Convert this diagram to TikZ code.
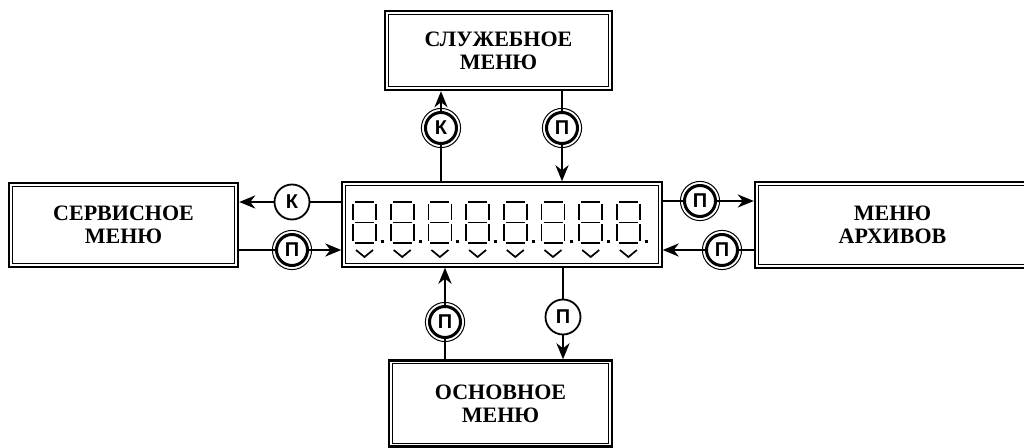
\documentclass[tikz,border=0pt]{standalone}
\usepackage{fontspec}
\setmainfont{Liberation Serif}
\newfontfamily\keyfont{Liberation Sans}
\usetikzlibrary{arrows.meta,positioning}

\tikzset{
  menubox/.style={draw, line width=1.2pt, align=center, inner sep=0pt,
                  font=\bfseries\fontsize{11}{11.5}\selectfont},
  dispbox/.style={draw, line width=0.7pt, inner sep=0pt},
  shortkey/.style={circle, draw, fill=white, line width=0.9pt, minimum size=17.5pt,
                   inner sep=0pt, font=\keyfont\bfseries\fontsize{10}{10}\selectfont},
  longkey/.style={shortkey, line width=1.5pt, minimum size=15.5pt},
  seg/.style={line width=0.8pt},
  chev/.style={line width=0.85pt}
}

\begin{document}
\begin{tikzpicture}[x=0.5pt,y=-0.5pt,>={Stealth[length=8pt,width=6.5pt,inset=2.5pt]},line width=1.2pt]
  \useasboundingbox (0,0) rectangle (1024,448);
  \clip (0,0) rectangle (1024,448);

  % menus and display
  \node[menubox, minimum width=113.5pt, minimum height=39.5pt] (slu) at (498.5,50.5) {СЛУЖЕБНОЕ\\МЕНЮ};
  \node[menubox, minimum width=114.5pt, minimum height=42pt]   (ser) at (123.5,225)  {СЕРВИСНОЕ\\МЕНЮ};
  \node[menubox, minimum width=137.5pt, minimum height=43pt]   (arh) at (892.5,225)  {МЕНЮ\\АРХИВОВ};
  \node[menubox, minimum width=111.5pt, minimum height=43pt]   (osn) at (500.5,403.5) {ОСНОВНОЕ\\МЕНЮ};
  \node[dispbox, minimum width=160pt, minimum height=42.5pt]   (disp) at (502,224.5) {};
  \foreach \b in {slu,ser,arh,osn,disp}
    \draw[line width=0.5pt] ([shift={(2.3pt,-2.3pt)}]\b.north west) rectangle ([shift={(-2.3pt,2.3pt)}]\b.south east);

  % digits
  \foreach \i in {0,...,7} {
    \begin{scope}[shift={(353+\i*37.7,0)}]
      \draw[seg] (2,202) -- (21,202) (2,222.5) -- (21,222.5) (2,243) -- (21,243)
                 (0,204) -- (0,220.5) (0,224.5) -- (0,241)
                 (23,204) -- (23,220.5) (23,224.5) -- (23,241);
      \fill (28,240.5) rectangle (31,243.5);
      \draw[chev] (3,250) -- (11.5,257) -- (20,250);
    \end{scope}
  }

  % keys
  \node[longkey]  (kUp)    at (441,128) {К};
  \node[longkey]  (pUp)    at (562,128) {П};
  \node[shortkey] (kLeft)  at (292,202) {К};
  \node[longkey]  (pLeft)  at (292,250) {П};
  \node[longkey]  (pRight) at (700,201) {П};
  \node[longkey]  (pBack)  at (722,250) {П};
  \node[longkey]  (pDown)  at (445,322) {П};
  \node[shortkey] (pMain)  at (563,317) {П};
  \foreach \b in {kUp,pUp,pLeft,pRight,pBack,pDown}
    \draw[line width=0.5pt] (\b) circle (9.8pt);

  % connectors
  \draw (disp.north -| kUp) -- (kUp);
  \draw[->] (kUp) -- (kUp |- slu.south);
  \draw (slu.south -| pUp) -- (pUp);
  \draw[->] (pUp) -- (pUp |- disp.north);
  \draw (disp.west |- kLeft) -- (kLeft);
  \draw[->] (kLeft) -- (kLeft -| ser.east);
  \draw (ser.east |- pLeft) -- (pLeft);
  \draw[->] (pLeft) -- (pLeft -| disp.west);
  \draw (disp.east |- pRight) -- (pRight);
  \draw[->] (pRight) -- (pRight -| arh.west);
  \draw (arh.west |- pBack) -- (pBack);
  \draw[->] (pBack) -- (pBack -| disp.east);
  \draw (osn.north -| pDown) -- (pDown);
  \draw[->] (pDown) -- (pDown |- disp.south);
  \draw (disp.south -| pMain) -- (pMain);
  \draw[->] (pMain) -- (pMain |- osn.north);
\end{tikzpicture}
\end{document}
